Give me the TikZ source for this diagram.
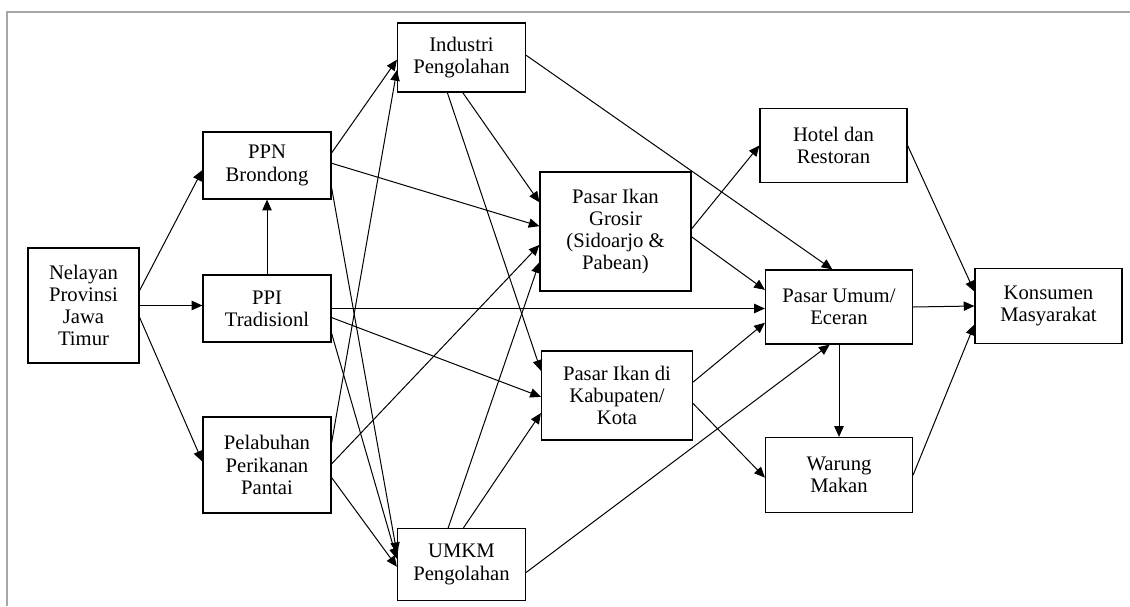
\documentclass[tikz,border=0pt]{standalone}
\usepackage{fontspec}
\setmainfont{Liberation Serif}
\usetikzlibrary{arrows.meta}
\definecolor{bingkai}{RGB}{170,166,166}

\begin{document}
\begin{tikzpicture}[x=0.75pt, y=-0.75pt,
        blok/.style={draw, line width=0.9pt, align=center, inner sep=0pt,
                     font=\fontsize{15.5}{16.6}\selectfont},
        panah/.style={-{Triangle[length=8pt,width=7pt]}, line width=0.75pt}]

        \useasboundingbox (0,0) rectangle (1130,606);
        \draw[bingkai, line width=1.5pt] (7,606) -- (7,12) -- (1130,12);

        % sumber
        \node[blok, minimum width=83.25pt, minimum height=86.25pt] (nelayan) at (83.5, 305.5) {Nelayan\\Provinsi\\Jawa\\Timur};

        % pelabuhan
        \node[blok, minimum width=96pt, minimum height=50.25pt] (ppn) at (267, 165.5) {PPN\\Brondong};
        \node[blok, minimum width=96pt, minimum height=50.25pt] (ppi) at (267, 308.5) {PPI\\Tradisionl};
        \node[blok, minimum width=96pt, minimum height=72pt] (ppp) at (267, 465) {Pelabuhan\\Perikanan\\Pantai};

        % pengolahan
        \node[blok, minimum width=96pt, minimum height=51.75pt] (industri) at (461.5, 57.5) {Industri\\Pengolahan};
        \node[blok, minimum width=96pt, minimum height=54pt] (umkm) at (461.5, 564.5) {UMKM\\Pengolahan};

        % pasar ikan
        \node[blok, minimum width=113.25pt, minimum height=89.25pt] (grosir) at (615.5, 231.5) {Pasar Ikan\\Grosir\\(Sidoarjo \&\\Pabean)};
        \node[blok, minimum width=113.25pt, minimum height=66.75pt] (kabkota) at (617, 395.5) {Pasar Ikan di\\Kabupaten/\\Kota};

        % pengecer
        \node[blok, minimum width=110.25pt, minimum height=55.5pt] (hotel) at (833.5, 145.5) {Hotel dan\\Restoran};
        \node[blok, minimum width=110.25pt, minimum height=55.5pt] (umum) at (839, 307) {Pasar Umum/\\Eceran};
        \node[blok, minimum width=110.25pt, minimum height=56.25pt] (warung) at (839, 475) {Warung\\Makan};

        \node[blok, minimum width=110.25pt, minimum height=56.25pt] (konsumen) at (1048.5, 306) {Konsumen\\Masyarakat};

        % dari nelayan
        \draw[panah] (nelayan.15.6) -- (ppn.184);
        \draw[panah] (nelayan.east) -- (nelayan.east -| ppi.west);
        \draw[panah] (nelayan.348) -- (ppp.177);

        % dari pelabuhan
        \draw[panah] (ppi.north) -- (ppn.south);
        \draw[panah] (ppn.11) -- (industri.182);
        \draw[panah] (ppn.2) -- (grosir.176.6);
        \draw[panah] (ppn.341) -- (umkm.170);
        \draw[panah] (ppi.east) -- (ppi.east -| umum.west);
        \draw[panah] (ppi.352) -- (kabkota.181);
        \draw[panah] (ppi.339) -- (umkm.175);
        \draw[panah] (ppp.19) -- (industri.191);
        \draw[panah] (ppp.1.8) -- (grosir.190);
        \draw[panah] (ppp.349) -- (umkm.182);

        % dari pengolahan
        \draw[panah] (industri.2) -- (umum.100.7);
        \draw[panah] (industri.272.5) -- (grosir.159.3);
        \draw[panah] (industri.248.6) -- (kabkota.162.7);
        \draw[panah] (umkm.110.6) -- (grosir.202.6);
        \draw[panah] (umkm.87.6) -- (kabkota.193);
        \draw[panah] (umkm.353.4) -- (umum.256.3);

        % dari pasar ikan
        \draw[panah] (grosir.2.7) -- (hotel.west);
        \draw[panah] (grosir.356.6) -- (umum.167);
        \draw[panah] (kabkota.10.1) -- (umum.192.3);
        \draw[panah] (kabkota.354.3) -- (warung.182.3);

        % ke konsumen
        \draw[panah] (umum.south) -- (warung.north);
        \draw[panah] (umum.east) -- (konsumen.west);
        \draw[panah] (hotel.east) -- (konsumen.169.2);
        \draw[panah] (warung.east) -- (konsumen.194.5);

\end{tikzpicture}
\end{document}
